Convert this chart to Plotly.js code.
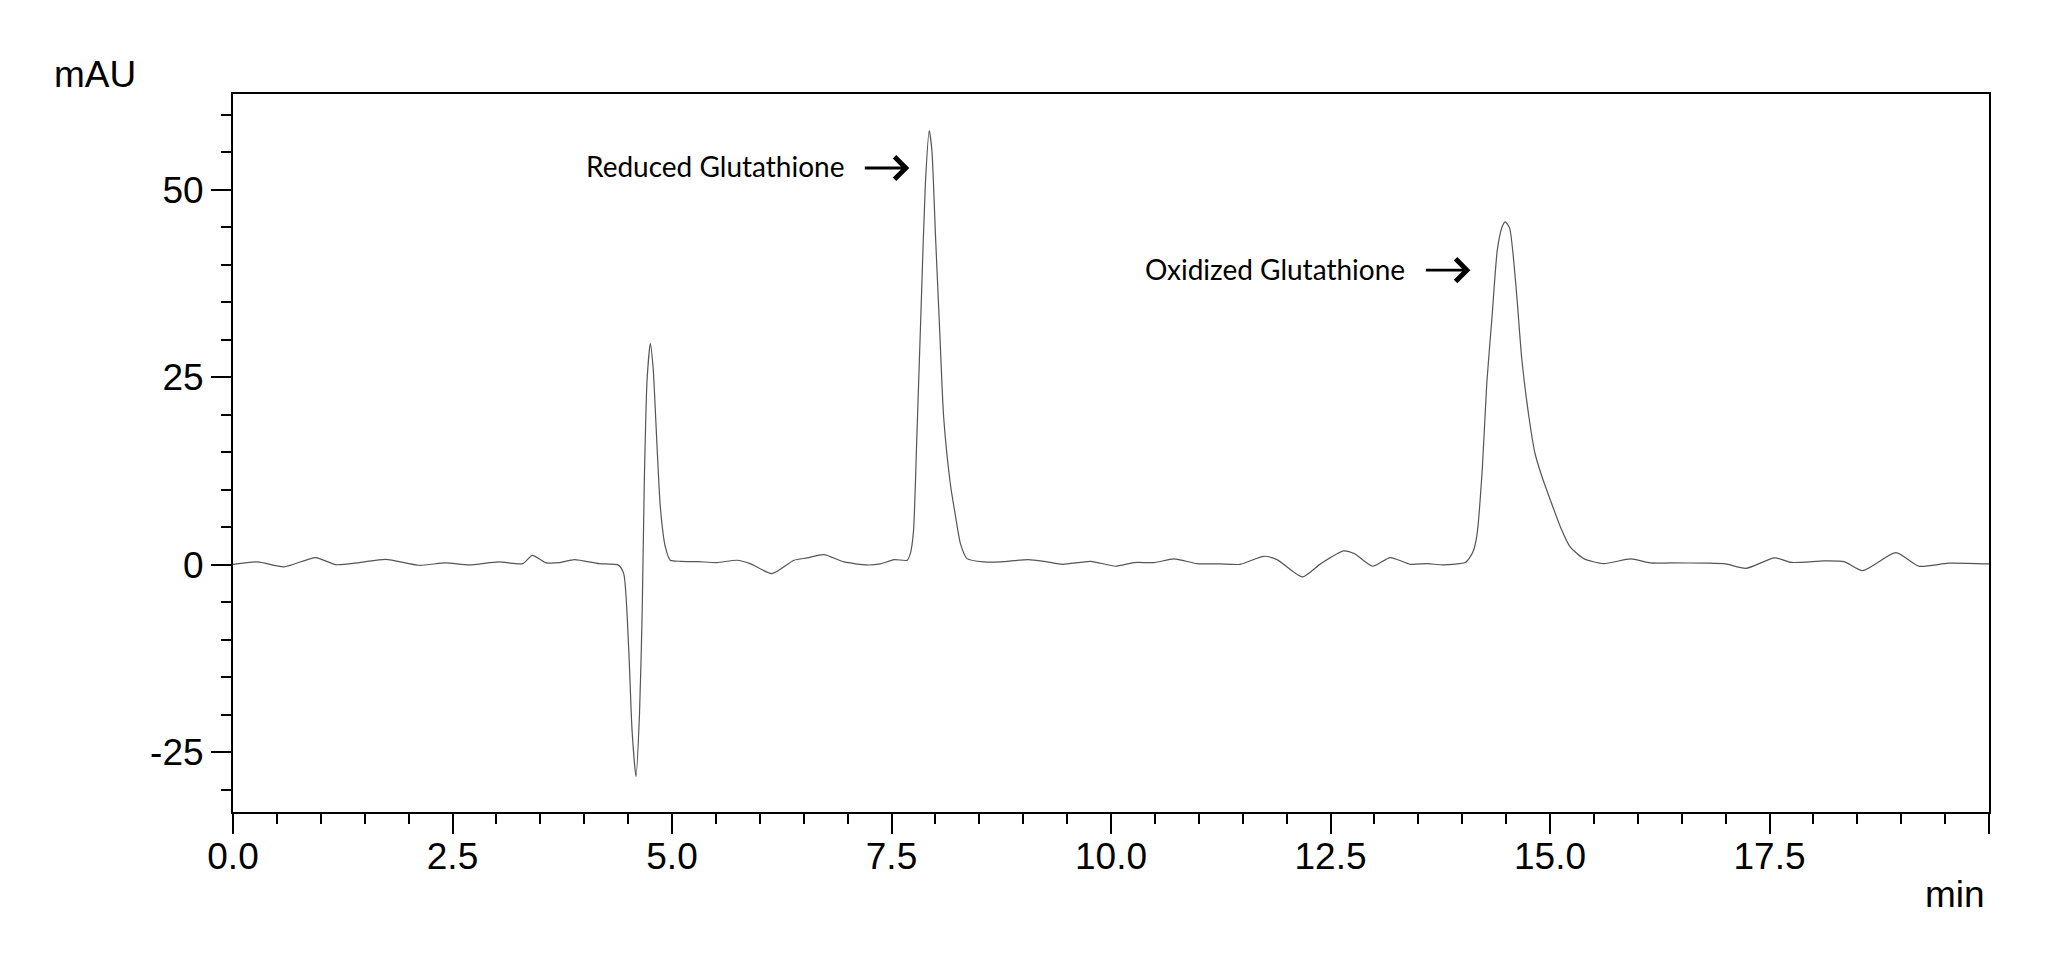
<!DOCTYPE html>
<html>
<head>
<meta charset="utf-8">
<script src="https://cdn.plot.ly/plotly-3.0.1.min.js"></script>
<style>
html,body{margin:0;padding:0;background:#fff;}
#chart{width:2050px;height:963px;}
</style>
</head>
<body>
<div id="chart"></div>
<script>
// Retention time (min)
var timeMin = [
  0.00, 0.28, 0.58, 0.94, 1.17, 1.44, 1.74, 2.12, 2.42, 2.69,
  3.03, 3.30, 3.41, 3.56, 3.71, 3.89, 4.17, 4.39, 4.45, 4.506,
  4.545, 4.59, 4.63, 4.66, 4.685, 4.716, 4.753, 4.784, 4.83, 4.867,
  4.924, 4.98, 5.10, 5.30, 5.51, 5.74, 5.89, 6.14, 6.39, 6.54,
  6.73, 6.96, 7.22, 7.37, 7.53, 7.68, 7.715, 7.75, 7.79, 7.84,
  7.886, 7.93, 7.96, 8.00, 8.05, 8.094, 8.17, 8.23, 8.285, 8.36,
  8.55, 8.74, 9.06, 9.27, 9.45, 9.77, 10.05, 10.26, 10.49, 10.72,
  10.98, 11.25, 11.47, 11.74, 11.89, 12.18, 12.39, 12.65, 12.77, 12.98,
  13.18, 13.41, 13.60, 13.79, 14.04, 14.09, 14.13, 14.17, 14.23, 14.28,
  14.34, 14.40, 14.455, 14.49, 14.54, 14.61, 14.68, 14.76, 14.83, 14.91,
  15.005, 15.12, 15.23, 15.385, 15.61, 15.92, 16.14, 16.37, 16.80, 17.00,
  17.23, 17.56, 17.75, 18.12, 18.35, 18.56, 18.94, 19.20, 19.54, 20.00
];
// Absorbance (mAU)
var absorbance = [
  0.05, 0.37, -0.30, 0.95, 0.00, 0.28, 0.72, -0.08, 0.23, -0.04,
  0.37, 0.14, 1.25, 0.28, 0.26, 0.68, 0.14, -0.06, -1.2, -11.0,
  -22.1, -28.3, -19.9, -6.5, 11.3, 24.6, 29.5, 26.4, 15.7, 7.7,
  2.36, 0.59, 0.45, 0.40, 0.28, 0.59, 0.14, -1.19, 0.59, 0.90,
  1.35, 0.37, -0.04, 0.10, 0.68, 0.59, 1.5, 4.4, 17.5, 35.3,
  50.9, 57.9, 55.3, 44.2, 30.9, 19.7, 10.8, 6.4, 2.8, 0.81,
  0.37, 0.37, 0.68, 0.37, 0.05, 0.45, -0.21, 0.28, 0.28, 0.77,
  0.14, 0.10, 0.05, 1.12, 0.68, -1.64, 0.14, 1.83, 1.5, -0.21,
  0.95, 0.05, 0.14, -0.04, 0.32, 1.03, 1.92, 4.15, 13.0, 24.2,
  33.1, 42.0, 45.1, 45.75, 44.9, 37.5, 27.3, 19.7, 14.8, 11.7,
  8.6, 5.0, 2.36, 0.81, 0.14, 0.77, 0.23, 0.23, 0.2, 0.1,
  -0.5, 0.9, 0.3, 0.5, 0.4, -0.8, 1.6, -0.2, 0.2, 0.1
];
var xTickVals = [0, 2.5, 5, 7.5, 10, 12.5, 15, 17.5, 20];
var xTickText = ["0.0", "2.5", "5.0", "7.5", "10.0", "12.5", "15.0", "17.5", ""];
var yTickVals = [-25, 0, 25, 50];
var yTickText = ["-25", "0", "25", "50"];
var peakLabels = ["Reduced Glutathione", "Oxidized Glutathione"];
var peakLabelX = [6.975, 13.365];
var peakLabelY = [53.19, 39.44];
var peakArrowX = [7.703, 14.093];
var peakArrowY = [52.92, 39.3];

var axisFont = {family: "Liberation Sans, Arial, sans-serif", size: 37, color: "#000"};
var labelFont = {family: "Lato, 'Open Sans', sans-serif", size: 28, color: "#000"};

var trace = {
  x: timeMin, y: absorbance, type: "scatter", mode: "lines",
  line: {color: "#555555", width: 1.2, shape: "spline", smoothing: 0.6},
  hoverinfo: "skip", showlegend: false
};

var annotations = [
  {xref: "paper", yref: "paper", x: -0.103, y: 1.0277, xanchor: "left", yanchor: "middle",
   text: "mAU", showarrow: false, font: axisFont},
  {xref: "paper", yref: "paper", x: 0.999, y: -0.1147, xanchor: "right", yanchor: "middle",
   text: "min", showarrow: false, font: axisFont}
];
for (var i = 0; i < peakLabels.length; i++) {
  annotations.push({x: peakLabelX[i], y: peakLabelY[i], xref: "x", yref: "y",
    xanchor: "right", yanchor: "middle", text: peakLabels[i], showarrow: false,
    font: labelFont, borderpad: 0});
  annotations.push({x: peakArrowX[i], y: peakArrowY[i], xref: "x", yref: "y",
    text: "", showarrow: true, ax: -46, ay: 0, arrowhead: 4, arrowsize: 1.5,
    arrowwidth: 2.9, arrowcolor: "#000"});
}

var layout = {
  width: 2050, height: 963,
  margin: {l: 233, r: 61, t: 94, b: 151},
  paper_bgcolor: "#fff", plot_bgcolor: "#fff",
  showlegend: false,
  xaxis: {
    range: [0, 20], showgrid: false, zeroline: false,
    showline: true, mirror: true, linecolor: "#000", linewidth: 2,
    ticks: "outside", ticklen: 20, tickwidth: 2, tickcolor: "#000",
    tickmode: "array", tickvals: xTickVals, ticktext: xTickText,
    tickfont: axisFont, ticklabelstandoff: -9,
    minor: {dtick: 0.5, tick0: 0, ticks: "outside", ticklen: 10, tickwidth: 2, tickcolor: "#000", showgrid: false}
  },
  yaxis: {
    range: [-33, 62.8], showgrid: false, zeroline: false,
    showline: true, mirror: true, linecolor: "#000", linewidth: 2,
    ticks: "outside", ticklen: 20, tickwidth: 2, tickcolor: "#000",
    tickmode: "array", tickvals: yTickVals, ticktext: yTickText,
    tickfont: axisFont,
    minor: {dtick: 5, tick0: 0, ticks: "outside", ticklen: 10, tickwidth: 2, tickcolor: "#000", showgrid: false}
  },
  annotations: annotations
};

Plotly.newPlot("chart", [trace], layout, {staticPlot: true, displayModeBar: false});
</script>
</body>
</html>
